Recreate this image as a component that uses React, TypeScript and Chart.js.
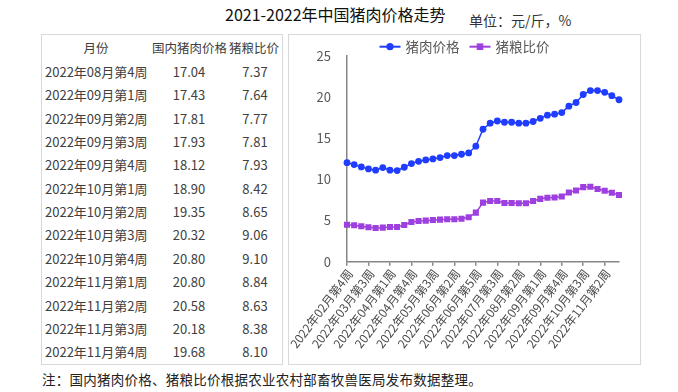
import React, { useEffect, useRef } from "react";
import { Chart, registerables } from "chart.js";

Chart.register(...registerables);

const weeks = [
  "2022年02月第4周", "2022年03月第1周", "2022年03月第2周", "2022年03月第3周", "2022年03月第4周",
  "2022年03月第5周", "2022年04月第1周", "2022年04月第2周", "2022年04月第3周", "2022年04月第4周",
  "2022年05月第1周", "2022年05月第2周", "2022年05月第3周", "2022年05月第4周", "2022年06月第1周",
  "2022年06月第2周", "2022年06月第3周", "2022年06月第4周", "2022年06月第5周", "2022年07月第1周",
  "2022年07月第2周", "2022年07月第3周", "2022年07月第4周", "2022年08月第1周", "2022年08月第2周",
  "2022年08月第3周", "2022年08月第4周", "2022年09月第1周", "2022年09月第2周", "2022年09月第3周",
  "2022年09月第4周", "2022年10月第1周", "2022年10月第2周", "2022年10月第3周", "2022年10月第4周",
  "2022年11月第1周", "2022年11月第2周", "2022年11月第3周", "2022年11月第4周",
];

const porkPrice = [
  12.04, 11.8, 11.52, 11.28, 11.12, 11.44, 11.12, 11.07, 11.48, 11.92,
  12.2, 12.37, 12.49, 12.65, 12.9, 12.9, 13.06, 13.22, 14.04, 16.1,
  16.83, 17.1, 16.95, 16.95, 16.83, 16.83, 17.04, 17.43, 17.81, 17.93,
  18.12, 18.9, 19.35, 20.32, 20.8, 20.8, 20.58, 20.18, 19.68,
];

const hogGrainRatio = [
  4.5, 4.43, 4.3, 4.18, 4.1, 4.14, 4.22, 4.22, 4.46, 4.83,
  4.95, 4.99, 5.07, 5.11, 5.16, 5.16, 5.23, 5.4, 5.96, 7.18,
  7.38, 7.38, 7.14, 7.14, 7.1, 7.1, 7.37, 7.64, 7.77, 7.81,
  7.93, 8.42, 8.65, 9.06, 9.1, 8.84, 8.63, 8.38, 8.1,
];

const seriesNames = ["猪肉价格", "猪粮比价"];
const tableHeaders = ["月份", "国内猪肉价格", "猪粮比价"];
const tableStart = 26;
const tableWeeks = weeks.slice(tableStart);
const tablePrice = porkPrice.slice(tableStart).map((v) => v.toFixed(2));
const tableRatio = hogGrainRatio.slice(tableStart).map((v) => v.toFixed(2));

const titleText = "2021-2022年中国猪肉价格走势";
const unitText = "单位：元/斤，%";
const noteText = "注：国内猪肉价格、猪粮比价根据农业农村部畜牧兽医局发布数据整理。";

const BLUE = "#1f3cff";
const PURPLE = "#9e3fe0";
const AXIS = "#868686";
const TEXT = "#595959";
const FONT = '"Noto Sans CJK SC", "Noto Sans", sans-serif';

const CANVAS_LEFT = 281;
const CANVAS_TOP = 36;
const CANVAS_W = 355;
const CANVAS_H = 327;
const LEGEND_CX = 464.5 - CANVAS_LEFT;

const lineLegend = {
  id: "lineLegend",
  afterDraw(chart: any) {
    const ctx = chart.ctx;
    ctx.save();
    ctx.font = `13.5px ${FONT}`;
    const items = chart.data.datasets.map((ds: any) => ({
      text: ds.label,
      color: ds.borderColor,
      style: ds.pointStyle,
    }));
    const lineW = 21;
    const gap = 5;
    const spacing = 10;
    const widths = items.map((it: any) => lineW + gap + ctx.measureText(it.text).width);
    const total = widths.reduce((a: number, b: number) => a + b, 0) + spacing * (items.length - 1);
    let x = LEGEND_CX - total / 2;
    const y = 10.7;
    items.forEach((it: any, i: number) => {
      ctx.strokeStyle = it.color;
      ctx.lineWidth = 2;
      ctx.beginPath();
      ctx.moveTo(x, y);
      ctx.lineTo(x + lineW, y);
      ctx.stroke();
      ctx.fillStyle = it.color;
      const cx = x + lineW / 2;
      if (it.style === "rect") {
        ctx.fillRect(cx - 3.3, y - 3.3, 6.6, 6.6);
      } else {
        ctx.beginPath();
        ctx.arc(cx, y, 3.6, 0, Math.PI * 2);
        ctx.fill();
      }
      ctx.fillStyle = TEXT;
      ctx.textBaseline = "middle";
      ctx.textAlign = "left";
      ctx.fillText(it.text, x + lineW + gap, y + 0.5);
      x += widths[i] + spacing;
    });
    ctx.restore();
  },
};

function PriceChart() {
  const ref = useRef<HTMLCanvasElement | null>(null);
  useEffect(() => {
    if (!ref.current) return;
    const chart = new Chart(ref.current, {
      type: "line",
      data: {
        labels: weeks,
        datasets: [
          {
            label: seriesNames[0],
            data: porkPrice,
            borderColor: BLUE,
            backgroundColor: BLUE,
            borderWidth: 1.5,
            pointStyle: "circle",
            pointRadius: 3.4,
            pointBorderWidth: 0,
            tension: 0,
          },
          {
            label: seriesNames[1],
            data: hogGrainRatio,
            borderColor: PURPLE,
            backgroundColor: PURPLE,
            borderWidth: 1.5,
            pointStyle: "rect",
            pointRadius: 4.3,
            pointBorderWidth: 0,
            tension: 0,
          },
        ],
      },
      options: {
        responsive: false,
        animation: false,
        layout: { padding: { top: 20, right: 17, left: 0, bottom: 0 } },
        plugins: {
          legend: { display: false },
          tooltip: { enabled: false },
        },
        scales: {
          x: {
            offset: false,
            border: { display: true, color: AXIS, width: 1.5 },
            grid: {
              display: true,
              drawOnChartArea: false,
              drawTicks: true,
              tickLength: 4,
              lineWidth: 1.5,
              color: (c: any) => (c.index % 3 === 0 ? AXIS : "rgba(0,0,0,0)"),
            },
            ticks: {
              autoSkip: false,
              maxRotation: 53,
              minRotation: 53,
              padding: 1,
              labelOffset: 3,
              color: "#4a4a4a",
              font: { family: FONT, size: 12 },
              callback: (_v: any, i: number) => (i % 3 === 0 ? weeks[i] : ""),
            },
            afterFit: (s: any) => {
              s.height = 101.3;
              s.paddingLeft = 0;
              s.paddingRight = 0;
            },
          },
          y: {
            min: 0,
            max: 25,
            border: { display: true, color: AXIS, width: 1.5 },
            grid: { display: false },
            ticks: {
              stepSize: 5,
              padding: 8,
              color: TEXT,
              font: { family: FONT, size: 13 },
            },
            afterFit: (s: any) => {
              s.width = 347 - CANVAS_LEFT;
            },
          },
        },
      },
      plugins: [lineLegend],
    });
    return () => chart.destroy();
  }, []);
  return (
    <canvas
      ref={ref}
      width={CANVAS_W}
      height={CANVAS_H}
      style={{ position: "absolute", left: CANVAS_LEFT, top: CANVAS_TOP, width: CANVAS_W, height: CANVAS_H }}
    />
  );
}

export default function App() {
  const rowY = (i: number) => 72 + 23.35 * i;
  const cell = (text: string, cx: number, cy: number, align: "left" | "center", key: string, fs?: number) => (
    <div
      key={key}
      style={{
        position: "absolute",
        top: cy - 10,
        left: align === "left" ? cx : cx - 60,
        width: align === "left" ? undefined : 120,
        textAlign: align,
        lineHeight: "20px",
        height: 20,
        whiteSpace: "nowrap",
        fontSize: fs,
      }}
    >
      {text}
    </div>
  );
  return (
    <div
      style={{
        position: "absolute",
        left: 0,
        top: 0,
        width: 678,
        height: 392,
        background: "#fff",
        fontFamily: FONT,
        overflow: "hidden",
      }}
    >
      <div
        style={{
          position: "absolute",
          left: 225,
          top: 4,
          fontSize: 16,
          lineHeight: "21px",
          color: "#111",
          whiteSpace: "nowrap",
        }}
      >
        {titleText}
      </div>
      <div
        style={{
          position: "absolute",
          left: 469,
          top: 11,
          fontSize: 14,
          lineHeight: "18px",
          color: "#333",
          whiteSpace: "nowrap",
        }}
      >
        {unitText}
      </div>
      <div
        style={{
          position: "absolute",
          left: 41,
          top: 34,
          width: 240,
          height: 329,
          border: "1px solid #d9d9d9",
        }}
      />
      <div
        style={{
          position: "absolute",
          left: 288,
          top: 34,
          width: 351,
          height: 329,
          border: "1px solid #d9d9d9",
        }}
      />
      <div style={{ position: "absolute", left: 0, top: 0, fontSize: 13, color: "#404040" }}>
        {cell(tableHeaders[0], 96, 48, "center", "h0", 12.5)}
        {cell(tableHeaders[1], 189.5, 48, "center", "h1", 12.5)}
        {cell(tableHeaders[2], 254, 48, "center", "h2", 12.5)}
        {tableWeeks.map((w, i) => cell(w, 45, rowY(i), "left", "w" + i))}
        {tablePrice.map((p, i) => cell(p, 189, rowY(i), "center", "p" + i))}
        {tableRatio.map((r, i) => cell(r, 255, rowY(i), "center", "r" + i))}
      </div>
      <PriceChart />
      <div
        style={{
          position: "absolute",
          left: 42,
          top: 370,
          fontSize: 13.5,
          letterSpacing: "0.25px",
          lineHeight: "18px",
          color: "#222",
          whiteSpace: "nowrap",
        }}
      >
        {noteText}
      </div>
    </div>
  );
}
